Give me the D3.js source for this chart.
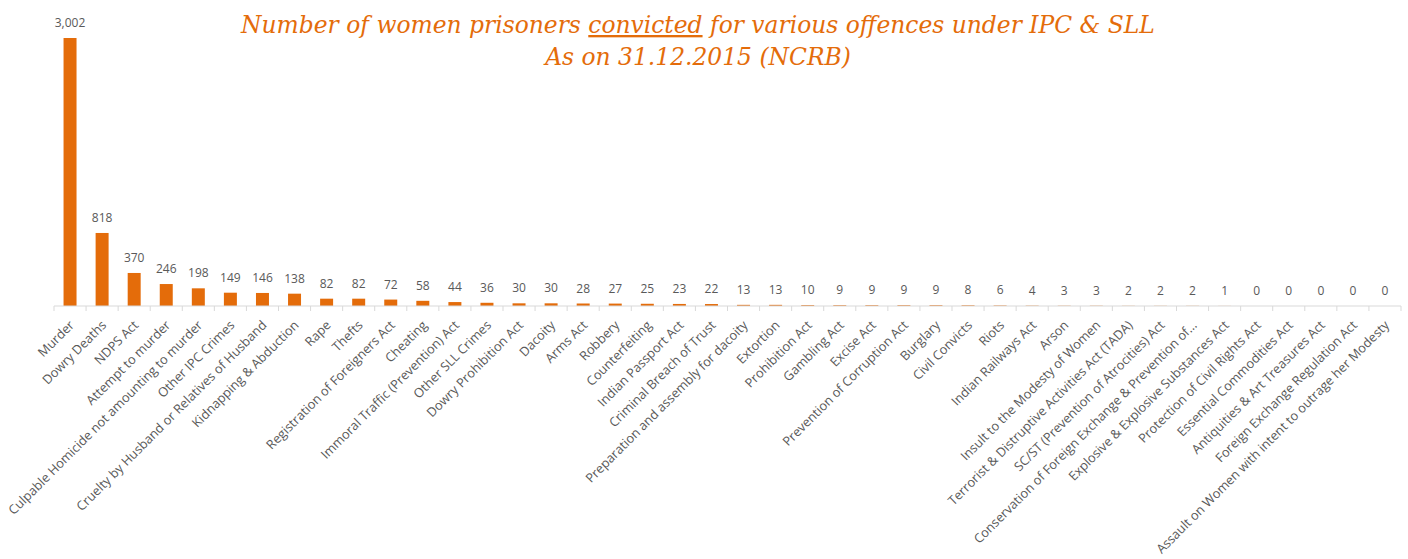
<!DOCTYPE html>
<html>
<head>
<meta charset="utf-8">
<script src="https://cdn.jsdelivr.net/npm/d3@7"></script>
<style>
  body { margin: 0; background: #fff; }
  .title { font-family: "DejaVu Serif", serif; font-style: italic; fill: #E46C0A; }
  .val { font-family: "Open Sans", sans-serif; fill: #595959; }
  .cat { font-family: "Open Sans", sans-serif; fill: #595959; }
</style>
</head>
<body>
<div id="chart"></div>
<script>
var categories = ["Murder", "Dowry Deaths", "NDPS Act", "Attempt to murder",
  "Culpable Homicide not amounting to murder", "Other IPC Crimes",
  "Cruelty by Husband or Relatives of Husband", "Kidnapping & Abduction", "Rape", "Thefts",
  "Registration of Foreigners Act", "Cheating", "Immoral Traffic (Prevention) Act",
  "Other SLL Crimes", "Dowry Prohibition Act", "Dacoity", "Arms Act", "Robbery",
  "Counterfeiting", "Indian Passport Act", "Criminal Breach of Trust",
  "Preparation and assembly for dacoity", "Extortion", "Prohibition Act", "Gambling Act",
  "Excise Act", "Prevention of Corruption Act", "Burglary", "Civil Convicts", "Riots",
  "Indian Railways Act", "Arson", "Insult to the Modesty of Women",
  "Terrorist & Distruptive Activities Act (TADA)", "SC/ST (Prevention of Atrocities) Act",
  "Conservation of Foreign Exchange & Prevention of...", "Explosive & Explosive Substances Act",
  "Protection of Civil Rights Act", "Essential Commodities Act",
  "Antiquities & Art Treasures Act", "Foreign Exchange Regulation Act",
  "Assault on Women with intent to outrage her Modesty"];

var convicted = [3002, 818, 370, 246, 198, 149, 146, 138, 82, 82, 72, 58, 44, 36, 30, 30,
  28, 27, 25, 23, 22, 13, 13, 10, 9, 9, 9, 9, 8, 6, 4, 3, 3, 2, 2, 2, 1, 0, 0, 0, 0, 0];

var titleLine1 = ["Number of women prisoners ", "convicted", " for various offences under IPC & SLL"];
var titleLine2 = "As on 31.12.2015 (NCRB)";

var data = categories.map(function(c, i) { return {name: c, value: convicted[i]}; });

var W = 1408, H = 559;
var svg = d3.select("#chart").append("svg")
    .attr("width", W)
    .attr("height", H);

var x = d3.scaleBand()
    .domain(categories)
    .range([54, 1401])
    .paddingInner(0.595)
    .paddingOuter(0.2975);

var y = d3.scaleLinear()
    .domain([0, 3002])
    .range([306, 38]);

var step = x.step();

// bars
svg.selectAll(".bar").data(data).enter().append("rect")
    .attr("class", "bar")
    .attr("x", function(d) { return x(d.name); })
    .attr("y", function(d) { return y(d.value); })
    .attr("width", x.bandwidth())
    .attr("height", function(d) { return y(0) - y(d.value); })
    .attr("fill", "#E46C0A");

// value labels
svg.selectAll(".val").data(data).enter().append("text")
    .attr("class", "val")
    .attr("x", function(d) { return x(d.name) + x.bandwidth() / 2; })
    .attr("y", function(d) { return y(d.value) - 11; })
    .attr("text-anchor", "middle")
    .style("font-size", "12px")
    .text(function(d) { return d3.format(",")(d.value); });

// axis line + boundary ticks
var axis = svg.append("g").attr("transform", "translate(0," + y(0) + ")");
axis.append("line")
    .attr("x1", x.range()[0]).attr("x2", x.range()[1])
    .attr("stroke", "#d9d9d9");
axis.selectAll(".tk").data(d3.range(categories.length + 1)).enter().append("line")
    .attr("x1", function(i) { return x.range()[0] + i * step; })
    .attr("x2", function(i) { return x.range()[0] + i * step; })
    .attr("y1", 0).attr("y2", 5)
    .attr("stroke", "#d9d9d9");

// category labels
svg.selectAll(".cat").data(data).enter().append("text")
    .attr("class", "cat")
    .attr("text-anchor", "end")
    .attr("transform", function(d) {
      var cx = x(d.name) + x.bandwidth() / 2 + 5;
      return "translate(" + cx + "," + (y(0) + 20) + ") rotate(-45)";
    })
    .style("font-size", "12.8px")
    .text(function(d) { return d.name; });

// title
var t1 = svg.append("text")
    .attr("class", "title")
    .attr("x", 698).attr("y", 33)
    .attr("text-anchor", "middle")
    .style("font-size", "23.4px");
t1.selectAll("tspan").data(titleLine1).enter().append("tspan")
    .style("text-decoration", function(d, i) { return i == 1 ? "underline" : null; })
    .text(function(d) { return d; });

svg.append("text")
    .attr("class", "title")
    .attr("x", 698).attr("y", 65)
    .attr("text-anchor", "middle")
    .style("font-size", "23.4px")
    .text(titleLine2);
</script>
</body>
</html>
